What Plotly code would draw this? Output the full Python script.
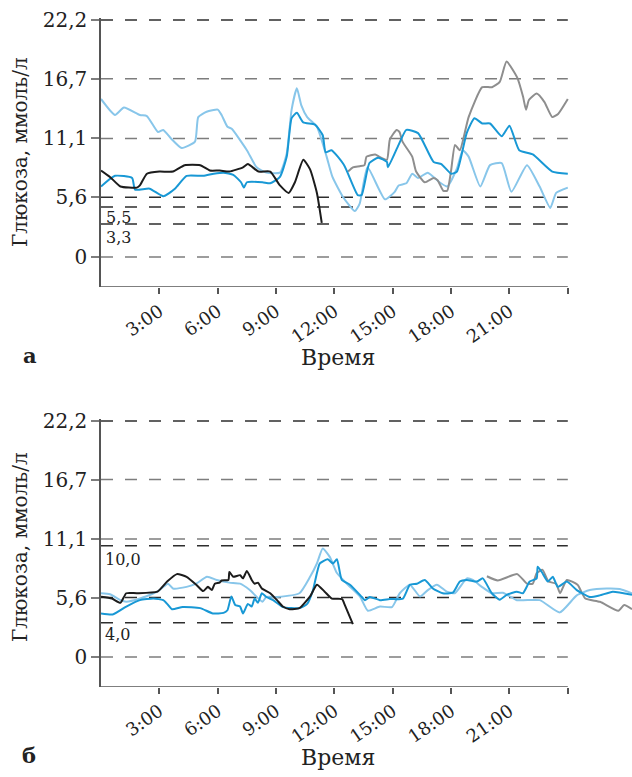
import plotly.graph_objects as go

# ---------------- data ----------------
# hours of day, glucose mmol/L
a_black_h = [0, 0.46, 1.0, 1.85, 2.0, 2.36, 3.0, 3.7, 4.3, 5.1, 5.6, 6.1, 6.6, 7.3, 7.55, 8.1, 8.7, 9.2, 9.65, 9.97, 10.4, 10.75, 11.1, 11.35]
a_black_v = [8.1, 7.5, 6.6, 6.5, 6.7, 7.8, 8.0, 8.0, 8.6, 8.6, 8.1, 8.1, 8.0, 8.4, 8.7, 8.0, 8.0, 6.7, 6.0, 7.0, 9.1, 8.2, 6.0, 3.2]

a_gray_h = [12.7, 12.95, 13.3, 13.55, 13.65, 14.1, 14.3, 14.7, 14.85, 15.2, 15.35, 15.5, 16.0, 16.2, 16.65, 17.1, 17.3, 17.6, 17.8, 18.0, 18.2, 18.45, 18.9, 19.6, 20.1, 20.5, 20.85, 21.4, 21.7, 21.85, 22.0, 22.4, 22.8, 23.2, 23.5, 24.0]
a_gray_v = [8.0, 8.4, 8.5, 8.6, 9.4, 9.6, 9.4, 9.1, 11.0, 11.9, 11.7, 10.8, 9.4, 8.0, 7.0, 7.4, 7.2, 6.2, 6.2, 8.1, 10.5, 10.0, 13.1, 15.9, 15.9, 16.4, 18.3, 16.8, 15.0, 13.8, 14.7, 15.3, 14.5, 13.1, 13.4, 14.8]

a_blue_h = [0, 0.72, 1.6, 1.75, 2.5, 3.2, 3.8, 4.4, 5.25, 5.8, 6.3, 6.8, 7.2, 7.35, 7.5, 8.3, 8.7, 9.2, 9.55, 9.8, 10.07, 10.4, 11.0, 11.4, 11.55, 11.85, 12.5, 13.2, 13.4, 13.8, 14.25, 14.7, 14.75, 15.3, 15.7, 16.3, 17.1, 17.5, 18.0, 18.3, 18.8, 19.2, 19.6, 20.0, 20.6, 21.0, 21.5, 22.2, 23.2, 24.0]
a_blue_v = [6.6, 7.6, 7.4, 6.3, 6.4, 5.7, 6.4, 7.6, 7.6, 7.8, 7.9, 7.7, 7.0, 6.5, 7.0, 7.0, 6.9, 7.5, 9.4, 13.0, 13.5, 12.6, 12.4, 11.4, 9.8, 10.0, 8.6, 5.8, 5.8, 8.8, 9.3, 8.9, 8.4, 10.5, 11.9, 11.6, 8.9, 8.7, 7.8, 8.0, 11.6, 13.0, 12.5, 12.5, 11.3, 12.3, 10.0, 9.6, 8.0, 7.8]

a_lblue_h = [0, 0.72, 1.18, 2.0, 2.36, 2.93, 3.2, 3.6, 4.15, 4.83, 5.0, 5.43, 6.0, 6.2, 6.5, 6.72, 7.5, 8.0, 8.5, 9.2, 9.55, 9.8, 10.07, 10.3, 10.6, 11.1, 11.6, 11.9, 12.45, 13.05, 13.3, 13.7, 14.6, 15.1, 15.3, 15.7, 16.0, 16.3, 16.8, 17.4, 17.8, 18.3, 18.6, 18.9, 19.5, 20.0, 20.6, 21.1, 21.9, 22.55, 23.1, 23.4, 24.0]
a_lblue_v = [14.8, 13.3, 14.0, 13.3, 13.2, 11.7, 11.9, 11.1, 10.2, 10.8, 13.1, 13.6, 13.8, 13.3, 12.2, 12.0, 10.0, 8.4, 7.9, 7.9, 9.7, 13.8, 15.8, 14.2, 13.1, 12.2, 9.4, 7.5, 5.6, 4.3, 5.0, 8.4, 5.4, 6.1, 6.7, 6.9, 7.8, 7.4, 7.9, 7.0, 6.6, 8.3, 10.0, 9.4, 6.6, 8.6, 8.8, 6.1, 8.6, 6.6, 4.6, 6.0, 6.5]

b_black_h = [0, 0.56, 1.0, 1.3, 1.85, 2.9, 3.4, 3.9, 4.4, 4.9, 5.25, 5.5, 5.7, 5.85, 6.1, 6.2, 6.55, 6.6, 6.8, 7.15, 7.3, 7.5, 7.75, 7.9, 8.07, 8.27, 8.7, 9.05, 9.35, 9.7, 10.2, 10.75, 11.1, 11.5, 11.87, 12.4, 12.5, 12.95]
b_black_v = [5.67, 5.5, 5.1, 6.0, 6.0, 6.15, 7.1, 7.8, 7.55, 6.8, 6.2, 6.6, 6.3, 6.9, 7.0, 7.2, 7.25, 8.0, 7.55, 7.7, 7.4, 8.1, 7.25, 6.9, 7.0, 6.45, 6.0, 5.35, 4.75, 4.5, 4.6, 5.7, 6.8, 6.15, 5.5, 5.45, 5.05, 3.1]

b_gray_h = [19.84, 20.4, 21.4, 21.9, 22.2, 22.4, 22.7, 23.0, 23.4, 23.6, 23.95, 24.5, 24.9, 25.65, 26.6, 26.9, 27.3]
b_gray_v = [7.6, 7.2, 7.8, 6.9, 6.9, 7.9, 8.2, 7.1, 6.9, 6.0, 7.25, 6.8, 5.5, 5.2, 4.35, 4.9, 4.5]

b_blue_h = [0, 0.6, 1.3, 2.0, 2.7, 3.2, 3.45, 3.65, 4.2, 5.1, 5.75, 6.3, 6.5, 6.7, 6.9, 7.15, 7.3, 7.55, 7.75, 7.9, 8.07, 8.27, 8.5, 8.85, 9.35, 10.2, 10.6, 10.9, 11.25, 11.66, 11.92, 12.13, 12.38, 12.8, 13.41, 13.57, 13.82, 14.34, 14.85, 15.52, 15.88, 16.24, 16.65, 17.06, 17.57, 18.09, 18.45, 18.81, 19.32, 19.63, 20.09, 20.5, 20.86, 21.38, 21.69, 22.04, 22.4, 22.45, 22.66, 22.97, 23.23, 23.48, 23.95, 24.46, 25.13, 25.64, 26.31, 27.3]
b_blue_v = [4.1, 4.0, 4.75, 5.35, 5.5, 5.35, 4.9, 4.5, 4.7, 4.6, 4.1, 4.15, 4.4, 5.7, 4.9, 4.75, 4.1, 5.0, 4.75, 5.5, 5.1, 6.0, 5.65, 5.35, 4.7, 4.6, 5.0, 6.3, 8.8, 9.2, 8.8, 9.2, 7.25, 6.8, 5.65, 5.35, 5.65, 5.35, 5.45, 5.5, 6.8, 6.9, 7.25, 6.45, 6.0, 6.05, 7.1, 7.25, 7.1, 7.4, 6.0, 5.4, 5.85, 6.15, 6.0, 7.1, 7.4, 8.5, 8.0, 7.1, 7.55, 6.6, 7.1, 6.3, 5.65, 5.8, 6.15, 5.85]

b_lblue_h = [0, 0.46, 1.0, 1.3, 2.0, 2.9, 3.2, 3.45, 3.7, 4.4, 4.9, 5.45, 5.95, 6.6, 7.15, 7.65, 8.3, 8.5, 9.05, 10.2, 10.75, 11.1, 11.4, 11.77, 12.13, 12.64, 13.31, 13.72, 14.34, 14.96, 15.36, 15.88, 16.4, 16.8, 17.27, 17.78, 18.19, 18.81, 19.12, 19.58, 20.09, 20.66, 21.38, 22.56, 23.59, 24.46, 25.13, 26.0, 26.67, 27.3]
b_lblue_v = [6.0, 5.9, 5.35, 5.2, 5.5, 6.15, 6.6, 6.9, 6.45, 6.6, 6.9, 7.55, 7.25, 7.0, 6.9, 6.3, 5.2, 5.65, 5.65, 6.0, 7.55, 8.8, 10.2, 9.4, 7.9, 6.9, 5.7, 4.35, 4.75, 4.7, 6.0, 6.8, 5.7, 6.3, 6.8, 6.15, 6.0, 7.4, 7.25, 6.6, 6.0, 6.05, 5.35, 5.35, 4.2, 5.8, 6.3, 6.45, 6.4, 6.0]

y_tick_vals = [0, 5.6, 11.1, 16.7, 22.2]
y_tick_text = ["0", "5,6", "11,1", "16,7", "22,2"]
x_tick_vals = [3, 6, 9, 12, 15, 18, 21, 24]
x_tick_text = ["3:00", "6:00", "9:00", "12:00", "15:00", "18:00", "21:00", ""]

# reference levels (label, drawn level)
a_ref_labels = ["5,5", "3,3"]
a_ref_levels = [4.68, 3.1]
b_ref_labels = ["10,0", "4,0"]
b_ref_levels = [10.47, 3.23]

# ---------------- style ----------------
FONT = "DejaVu Serif"
C_BLACK = "#1c1c1c"
C_GRAY = "#8e8e8e"
C_BLUE = "#1898d5"
C_LBLUE = "#88c6ea"
GRID_LIGHT = "#7d7d7d"
GRID_DARK = "#2e2e2e"
AXIS = "#555555"
X_MAX = 27.3
Y_MIN, Y_MAX = -2.8, 22.4
W, H = 632, 777
L = 101

fig = go.Figure()

def add_series(h, v, color, xa, ya, width=2.0):
    fig.add_trace(go.Scatter(x=h, y=v, mode="lines", xaxis=xa, yaxis=ya,
                             line=dict(color=color, width=width, shape="spline", smoothing=0.5),
                             showlegend=False, hoverinfo="skip"))

# top panel
add_series(a_lblue_h, a_lblue_v, C_LBLUE, "x", "y")
add_series(a_gray_h, a_gray_v, C_GRAY, "x", "y")
add_series(a_blue_h, a_blue_v, C_BLUE, "x", "y")
add_series(a_black_h, a_black_v, C_BLACK, "x", "y")
# bottom panel
add_series(b_gray_h, b_gray_v, C_GRAY, "x2", "y2")
add_series(b_lblue_h, b_lblue_v, C_LBLUE, "x2", "y2")
add_series(b_blue_h, b_blue_v, C_BLUE, "x2", "y2")
add_series(b_black_h, b_black_v, C_BLACK, "x2", "y2")

shapes = []
def hline(level, color, xr, yr):
    shapes.append(dict(type="line", xref=xr, yref=yr, x0=0, x1=24, y0=level, y1=level,
                       line=dict(color=color, width=1.5, dash="12px,12px"), layer="below"))

grid_colors = [GRID_LIGHT, GRID_DARK, GRID_LIGHT, GRID_LIGHT, GRID_DARK]
for xr, yr, refs in (("x", "y", a_ref_levels), ("x2", "y2", b_ref_levels)):
    for lv, col in zip(y_tick_vals, grid_colors):
        hline(lv, col, xr, yr)
    for lv in refs:
        hline(lv, GRID_DARK, xr, yr)
    # x axis line, ends at 24:00
    shapes.append(dict(type="line", xref=xr, yref=yr, x0=0, x1=24, y0=Y_MIN, y1=Y_MIN,
                       line=dict(color=AXIS, width=1.5), layer="above"))

def ypix(p):
    return 1 - p / H

def xpix(p):
    return (p - L) / (W - L)

xcommon = dict(range=[0, X_MAX], tickvals=x_tick_vals, ticktext=x_tick_text, ticks="outside",
               ticklen=6, tickwidth=1.5, tickcolor=AXIS, showgrid=False, zeroline=False,
               showline=False, tickangle=-35, tickfont=dict(family=FONT, size=18, color="#222"),
               fixedrange=True, automargin=False, domain=[0, 1])
ycommon = dict(range=[Y_MIN, Y_MAX], tickvals=y_tick_vals, ticktext=y_tick_text, ticks="outside",
               ticklen=8, tickwidth=1.5, tickcolor=GRID_LIGHT, showgrid=False, zeroline=False,
               showline=True, linecolor=AXIS, linewidth=1.5,
               tickfont=dict(family=FONT, size=20, color="#222"), automargin=False)

annotations = []
def ann(text, x, y, size, bold=False, angle=0, xanchor="center"):
    annotations.append(dict(text=("<b>%s</b>" % text) if bold else text, xref="paper", yref="paper",
                            x=xpix(x), y=ypix(y), xanchor=xanchor, yanchor="middle", showarrow=False,
                            textangle=angle, font=dict(family=FONT, size=size, color="#222")))

ann("Глюкоза, ммоль/л", 20, 152, 20, angle=-90)
ann("Глюкоза, ммоль/л", 20, 547, 20, angle=-90)
ann("Время", 338, 357, 22)
ann("Время", 338, 757, 22)
ann("а", 30, 355, 21, bold=True)
ann("б", 29, 755, 21, bold=True)
ann(a_ref_labels[0], 104, 217, 16, xanchor="left")
ann(a_ref_labels[1], 104, 237, 16, xanchor="left")
ann(b_ref_labels[0], 103, 559, 16, xanchor="left")
ann(b_ref_labels[1], 103, 634, 16, xanchor="left")

fig.update_layout(
    width=W, height=H, margin=dict(l=L, r=0, t=0, b=0),
    paper_bgcolor="white", plot_bgcolor="white",
    xaxis=dict(xcommon, anchor="y"),
    yaxis=dict(ycommon, anchor="x", domain=[ypix(286.9), ypix(17.8)]),
    xaxis2=dict(xcommon, anchor="y2"),
    yaxis2=dict(ycommon, anchor="x2", domain=[ypix(686.8), ypix(418.9)]),
    shapes=shapes, annotations=annotations, showlegend=False,
)

fig.write_html("out.html", config={"displayModeBar": False},
               post_script="document.body.style.margin='0';document.body.style.overflow='hidden';")
